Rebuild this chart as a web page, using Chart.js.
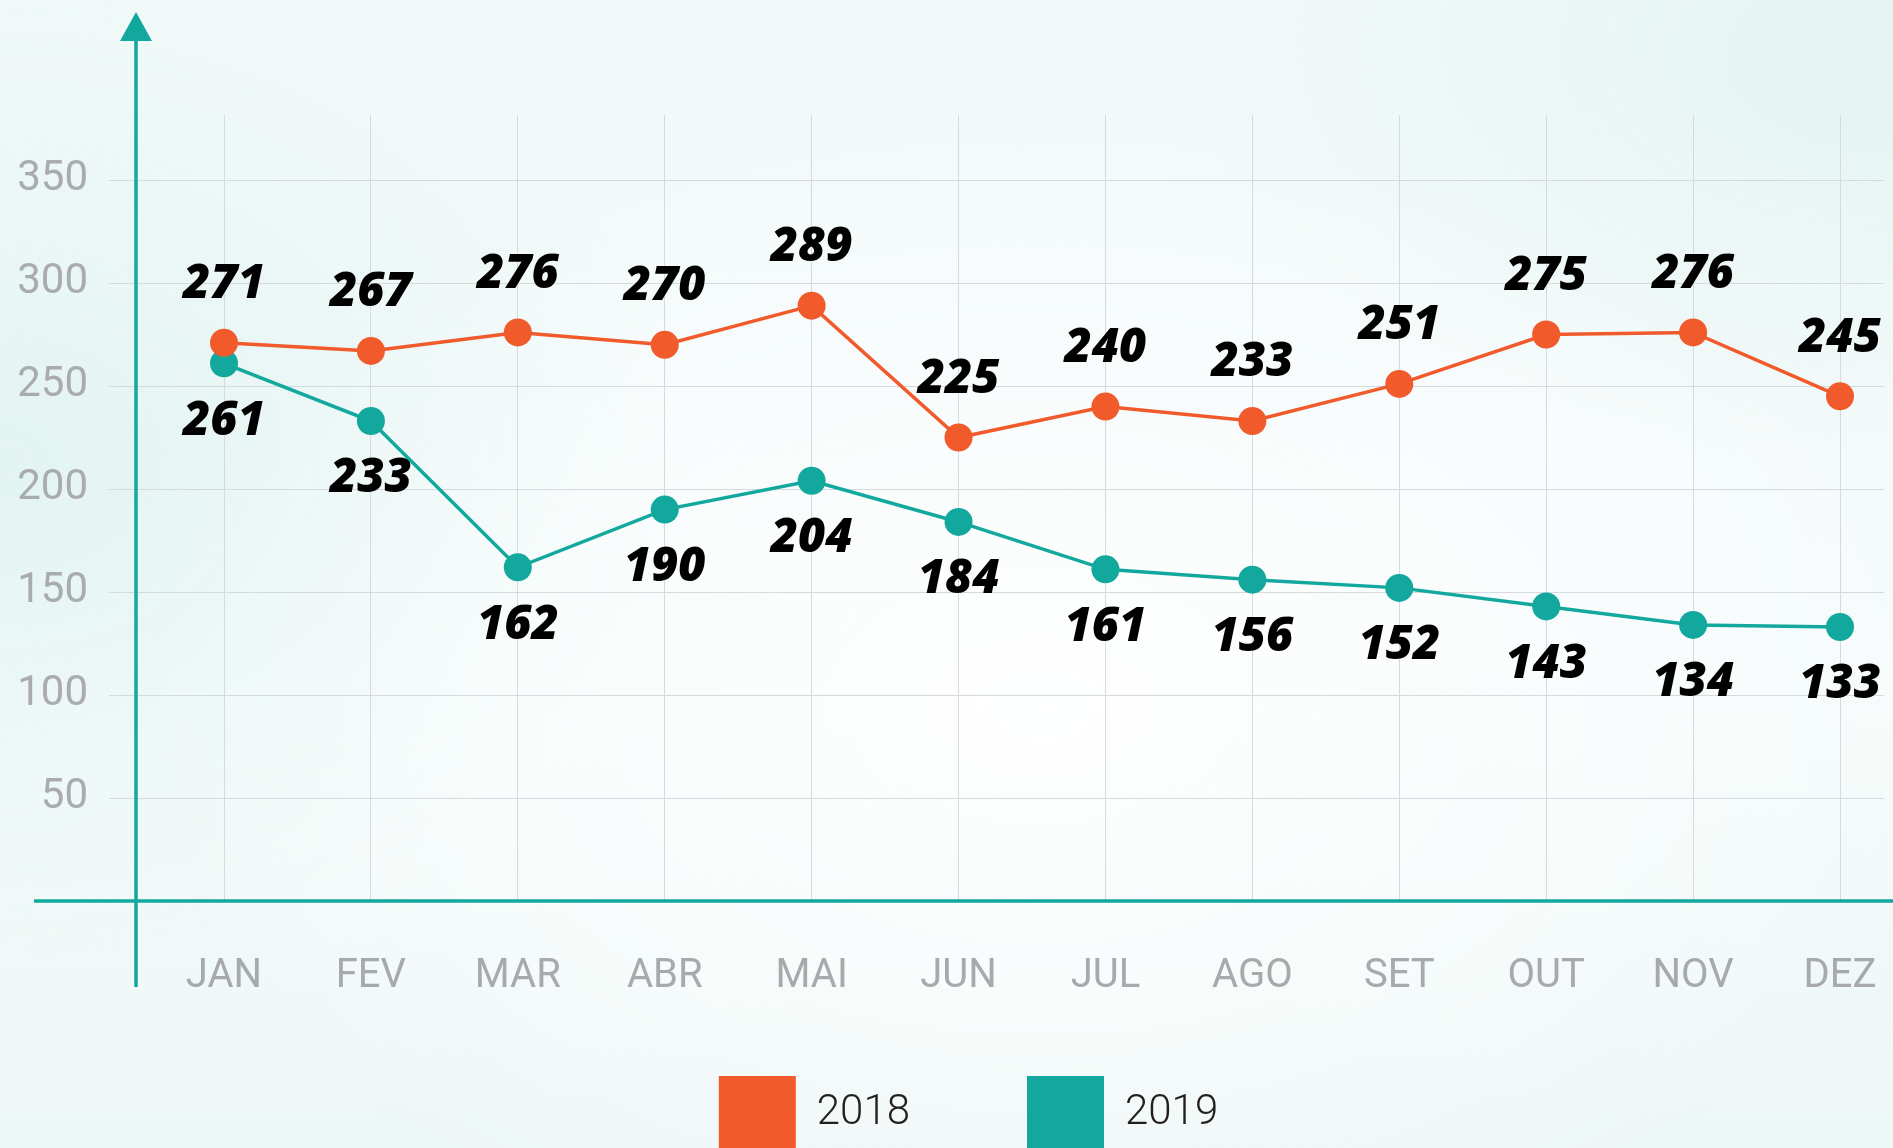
<!DOCTYPE html>
<html><head><meta charset="utf-8">
<script src="https://cdn.jsdelivr.net/npm/chart.js@4.4.1/dist/chart.umd.min.js"></script>
<style>
html,body{margin:0;padding:0;width:1893px;height:1148px;overflow:hidden;}
body{background:
 radial-gradient(ellipse 900px 600px at 55% 62%, rgba(255,255,255,0.95) 0%, rgba(255,255,255,0) 100%),
 radial-gradient(ellipse 700px 500px at 0% 40%, #e2f4f2 0%, rgba(226,244,242,0) 100%),
 radial-gradient(ellipse 700px 400px at 100% 5%, #e3f4f2 0%, rgba(227,244,242,0) 100%),
 linear-gradient(180deg,#f2f9f9 0%,#f6fbfb 60%,#edf7f6 100%);}
#wrap{position:absolute;left:0;top:0;width:1893px;height:1160px;}
</style></head><body>
<div id="wrap"><canvas id="c"></canvas></div>
<script>
const months = ['JAN','FEV','MAR','ABR','MAI','JUN','JUL','AGO','SET','OUT','NOV','DEZ'];
const values2018 = [271,267,276,270,289,225,240,233,251,275,276,245];
const values2019 = [261,233,162,190,204,184,161,156,152,143,134,133];
const seriesNames = ['2018','2019'];
const yTickValues = [0,50,100,150,200,250,300,350];

const ORANGE = '#f15a2b';
const TEAL = '#13a89e';

const axesPlugin = {
  id: 'axesDeco',
  beforeDatasetsDraw(chart) {
    const {ctx, chartArea, scales: {y}} = chart;
    ctx.save();
    ctx.strokeStyle = '#d6dadc';
    ctx.lineWidth = 1;
    y.ticks.forEach(t => {
      if (t.value === 0) return;
      const py = Math.round(y.getPixelForValue(t.value)) + 0.5;
      ctx.beginPath();
      ctx.moveTo(chartArea.left - 115, py);
      ctx.lineTo(chartArea.right + 44, py);
      ctx.stroke();
    });
    const y0 = y.getPixelForValue(0);
    const ax = chartArea.left - 88;
    ctx.strokeStyle = TEAL;
    ctx.fillStyle = TEAL;
    ctx.lineWidth = 3.5;
    ctx.beginPath();
    ctx.moveTo(chartArea.left - 190, y0);
    ctx.lineTo(chart.width, y0);
    ctx.stroke();
    ctx.beginPath();
    ctx.moveTo(ax, 38);
    ctx.lineTo(ax, y0 + 86);
    ctx.stroke();
    ctx.beginPath();
    ctx.moveTo(ax, 12);
    ctx.lineTo(ax - 16, 41);
    ctx.lineTo(ax + 16, 41);
    ctx.closePath();
    ctx.fill();
    ctx.restore();
  }
};

const labelPlugin = {
  id: 'valueLabels',
  afterDatasetsDraw(chart) {
    const {ctx} = chart;
    ctx.save();
    ctx.font = 'italic 800 47px "Open Sans", Lato, sans-serif';
    ctx.fillStyle = '#000';
    ctx.textAlign = 'center';
    ctx.textBaseline = 'middle';
    chart.data.datasets.forEach((ds, di) => {
      const meta = chart.getDatasetMeta(di);
      meta.data.forEach((pt, i) => {
        const dy = di === 0 ? -58 : 58;
        ctx.fillText(String(ds.data[i]), pt.x, pt.y + dy);
      });
    });
    ctx.restore();
  }
};

const noLabelClip = s => { s._computeLabelArea = () => undefined; };

new Chart(document.getElementById('c'), {
  type: 'line',
  data: {
    labels: months,
    datasets: [
      {label: seriesNames[0], data: values2018, borderColor: ORANGE, backgroundColor: ORANGE,
       borderWidth: 3.5, pointRadius: 14, pointHoverRadius: 14, pointBorderWidth: 0,
       pointBackgroundColor: ORANGE, tension: 0, clip: false},
      {label: seriesNames[1], data: values2019, borderColor: TEAL, backgroundColor: TEAL,
       borderWidth: 3.5, pointRadius: 14, pointHoverRadius: 14, pointBorderWidth: 0,
       pointBackgroundColor: TEAL, tension: 0, clip: false}
    ]
  },
  options: {
    responsive: true,
    maintainAspectRatio: false,
    animation: false,
    layout: {padding: {top: 115, left: 44, right: 0, bottom: 0}},
    scales: {
      x: {
        type: 'category',
        offset: false,
        grid: {color: '#d6dadc', lineWidth: 1, drawTicks: false},
        border: {display: false},
        ticks: {color: '#a7a9ac', font: {family: 'Roboto', size: 40, weight: 400},
                padding: 52, maxRotation: 0, autoSkip: false},
        afterFit: s => { s.height = 58; s.paddingLeft = 0; s.paddingRight = 0; noLabelClip(s); }
      },
      y: {
        position: 'left',
        min: 0,
        max: 381.55,
        grid: {display: false},
        border: {display: false},
        afterBuildTicks: s => { s.ticks = yTickValues.map(v => ({value: v})); },
        ticks: {color: '#a9abae', font: {family: 'Roboto', size: 42, weight: 400},
                padding: 128, callback: v => v === 0 ? '' : String(v)},
        afterFit: s => { s.width = 180; s.paddingTop = 0; s.paddingBottom = 0; noLabelClip(s); }
      },
      y2: {
        position: 'right',
        display: true,
        grid: {display: false},
        border: {display: false},
        ticks: {display: false},
        afterFit: s => { s.width = 53; s.paddingTop = 0; s.paddingBottom = 0; }
      }
    },
    plugins: {
      tooltip: {enabled: false},
      legend: {
        position: 'bottom',
        align: 'center',
        labels: {
          boxWidth: 77, boxHeight: 74, padding: 117,
          color: '#231f20',
          font: {family: 'Roboto', size: 42, weight: 300},
          generateLabels: chart => Chart.defaults.plugins.legend.labels.generateLabels(chart)
            .map(l => Object.assign(l, {lineWidth: 0}))
        }
      }
    }
  },
  plugins: [axesPlugin, labelPlugin]
});
</script>
</body></html>
